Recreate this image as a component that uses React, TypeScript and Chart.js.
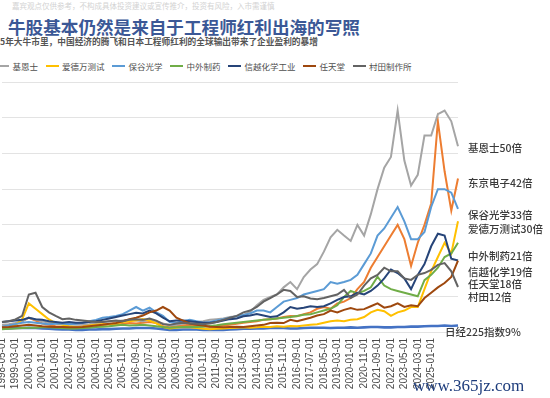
import React, { useEffect, useRef } from "react";
import { Chart, registerables } from "chart.js";
Chart.register(...registerables);

const categories = [
  "1998-05-01","1998-10-01","1999-03-01","1999-08-01","2000-01-01","2000-06-01","2000-11-01","2001-04-01","2001-09-01","2002-02-01",
  "2002-07-01","2002-12-01","2003-05-01","2003-10-01","2004-03-01","2004-08-01","2005-01-01","2005-06-01","2005-11-01","2006-04-01",
  "2006-09-01","2007-02-01","2007-07-01","2007-12-01","2008-05-01","2008-10-01","2009-03-01","2009-08-01","2010-01-01","2010-06-01",
  "2010-11-01","2011-04-01","2011-09-01","2012-02-01","2012-07-01","2012-12-01","2013-05-01","2013-10-01","2014-03-01","2014-08-01",
  "2015-01-01","2015-06-01","2015-11-01","2016-04-01","2016-09-01","2017-02-01","2017-07-01","2017-12-01","2018-05-01","2018-10-01",
  "2019-03-01","2019-08-01","2020-01-01","2020-06-01","2020-11-01","2021-04-01","2021-09-01","2022-02-01","2022-07-01","2022-12-01",
  "2023-05-01","2023-10-01","2024-03-01","2024-08-01","2025-01-01","2025-03-01","2025-05-01","2025-07-01","2025-09-01"
];
// last labelled tick on the axis
const lastTickLabel = "2025-01-01";

const nikkei = [
  1.0, 1.0, 1.1, 1.1, 1.2, 1.1, 1.0, 0.9, 0.8, 0.7,
  0.7, 0.6, 0.6, 0.7, 0.7, 0.8, 0.8, 0.9, 1.0, 1.0,
  1.1, 1.1, 1.1, 1.0, 0.8, 0.6, 0.6, 0.7, 0.7, 0.7,
  0.6, 0.6, 0.6, 0.6, 0.7, 0.8, 0.9, 0.9, 1.0, 1.0,
  1.1, 1.2, 1.1, 1.0, 1.0, 1.1, 1.2, 1.2, 1.2, 1.1,
  1.2, 1.2, 1.3, 1.2, 1.3, 1.4, 1.4, 1.3, 1.3, 1.4,
  1.4, 1.5, 1.5, 1.6, 1.7, 1.7, 1.8, 1.7, 1.8
];
const tokyoElectron = [
  1.5, 1.8, 2.2, 3.0, 4.0, 3.2, 2.4, 2.0, 1.6, 1.5,
  1.5, 1.4, 1.6, 1.8, 2.0, 2.2, 2.1, 2.0, 2.3, 2.5,
  2.4, 2.6, 2.8, 2.5, 1.6, 1.3, 1.6, 1.9, 2.0, 1.8,
  1.6, 1.5, 1.6, 1.8, 2.0, 2.3, 2.6, 2.8, 3.0, 3.4,
  3.6, 3.8, 4.2, 4.5, 4.4, 5.0, 5.5, 6.5, 7.0, 6.5,
  8.0, 8.5, 9.5, 12.0, 14.0, 18.0, 21.0, 24.0, 27.0, 30.0,
  26.0, 18.5, 25.0, 30.0, 36.0, 59.0, 45.0, 34.0, 43.0
];
const keyence = [
  2.0, 2.2, 2.5, 3.0, 4.0, 3.5, 3.0, 2.6, 2.4, 2.3,
  2.2, 2.0, 2.1, 2.2, 2.5, 2.8, 3.0, 3.0, 3.2, 3.4,
  3.2, 3.0, 3.4, 3.0, 2.4, 1.8, 2.0, 2.4, 2.6, 2.8,
  3.0, 3.4, 3.6, 3.8, 4.2, 4.4, 4.8, 5.6, 7.5, 9.0,
  9.8, 10.5, 12.5, 14.0, 12.0, 15.4, 17.5, 19.0, 22.5, 26.5,
  28.6, 27.0, 25.5, 30.0, 27.0, 33.0, 40.0, 46.0, 49.0, 62.0,
  48.0, 41.0, 44.0, 55.0, 55.0, 61.0, 62.0, 59.0, 52.0
];
const advantest = [
  1.2, 1.5, 2.0, 3.5, 8.0, 6.5, 5.0, 3.5, 2.5, 2.0,
  1.6, 1.4, 1.5, 1.8, 2.0, 2.2, 2.2, 2.4, 2.8, 3.0,
  3.2, 3.6, 3.2, 2.4, 1.4, 1.0, 1.2, 1.4, 1.3, 1.1,
  0.9, 0.8, 0.9, 1.0, 1.1, 1.2, 1.3, 1.2, 1.3, 1.5,
  1.4, 1.6, 1.5, 1.7, 1.6, 1.8, 2.0, 2.2, 2.6, 3.0,
  3.2, 3.0, 3.4, 3.6, 4.2, 5.5, 6.2, 5.8, 4.5, 5.5,
  6.0, 7.0, 7.0, 12.0, 17.0, 21.0, 25.0, 22.0, 31.0
];
const hoya = [
  1.5, 1.8, 2.2, 2.6, 2.8, 2.6, 2.4, 2.2, 2.3, 2.4,
  2.2, 2.3, 2.6, 3.0, 3.4, 4.0, 4.2, 4.5, 5.0, 6.0,
  7.0, 6.0, 6.8, 5.5, 4.5, 2.8, 2.6, 3.0, 3.4, 3.0,
  2.6, 2.8, 3.2, 3.6, 4.0, 4.4, 4.8, 5.2, 6.0, 6.0,
  5.5, 7.0, 8.5, 9.0, 9.5, 10.5, 11.0, 11.5, 12.0, 14.0,
  13.5, 14.0, 14.6, 16.0, 19.0, 22.0, 27.0, 29.0, 32.0, 35.0,
  31.0, 26.0, 26.0, 28.0, 35.0, 40.0, 40.0, 39.0, 34.5
];
const chugai = [
  0.8, 0.9, 1.0, 1.1, 1.2, 1.2, 1.3, 1.3, 1.2, 1.1,
  1.0, 1.0, 1.1, 1.2, 1.4, 1.5, 1.6, 1.8, 2.0, 1.8,
  1.9, 2.0, 1.8, 1.6, 1.4, 1.2, 1.3, 1.4, 1.5, 1.4,
  1.5, 1.7, 1.9, 2.2, 2.4, 2.6, 2.8, 3.0, 3.2, 3.4,
  3.6, 3.8, 4.0, 4.2, 4.5, 4.8, 5.0, 5.5, 6.0, 6.5,
  7.5, 9.8, 11.5, 10.8, 11.5, 12.5, 15.5, 13.0, 12.0, 11.5,
  11.0, 10.5, 10.0, 14.5, 16.0, 18.0, 21.0, 22.0, 25.0
];
const shinEtsu = [
  2.8, 3.0, 3.2, 3.4, 4.0, 3.6, 3.4, 3.0, 2.8, 2.6,
  2.8, 2.6, 2.6, 2.8, 3.0, 3.4, 3.8, 4.2, 4.6, 5.0,
  5.4, 5.2, 6.0, 5.2, 4.0, 3.0, 3.2, 3.2, 3.0, 2.8,
  2.6, 2.6, 2.8, 3.2, 3.6, 3.8, 4.4, 4.6, 5.0, 4.6,
  4.2, 4.4, 5.5, 7.0, 6.5, 6.8, 7.2, 7.0, 7.2, 8.0,
  9.0, 9.8, 10.0, 11.0, 10.5, 11.5, 13.0, 15.0, 17.5, 16.5,
  15.0, 12.0, 16.0, 19.0, 24.0, 27.5, 27.0, 20.5, 20.0
];
const nintendo = [
  1.3, 1.4, 1.6, 1.8, 2.0, 1.8, 1.6, 1.5, 1.4, 1.4,
  1.3, 1.3, 1.4, 1.6, 1.8, 2.0, 2.3, 2.5, 3.0, 3.6,
  4.0, 4.6, 5.5, 6.0, 7.0, 6.0, 4.0, 3.2, 2.4, 2.0,
  1.8, 1.5, 1.4, 1.3, 1.4, 1.5, 1.4, 1.6, 1.8, 2.0,
  2.5, 2.6, 2.5, 3.4, 3.0, 3.5, 4.0, 4.6, 5.0, 6.0,
  5.5, 6.2, 6.7, 6.2, 6.4, 7.2, 8.0, 6.8, 7.2, 8.0,
  7.0, 7.5, 7.2, 9.5, 11.0, 12.5, 13.7, 15.4, 20.0
];
const murata = [
  2.8, 3.0, 3.5, 4.5, 10.5, 11.0, 7.0, 5.5, 4.5, 3.6,
  3.8, 3.4, 3.2, 3.0, 2.8, 2.8, 3.0, 3.2, 3.0, 3.4,
  3.6, 3.4, 3.8, 3.2, 2.2, 2.0, 2.4, 2.6, 2.4, 2.3,
  2.2, 2.4, 2.8, 3.4, 4.0, 4.5, 5.5, 6.0, 7.0, 8.5,
  9.5, 10.5, 11.8, 11.5, 9.8, 10.0, 9.4, 9.2, 9.5, 10.0,
  10.5, 11.8, 9.5, 10.5, 13.0, 15.0, 16.0, 18.0, 17.0, 17.0,
  15.0, 14.6, 16.0, 16.5, 17.4, 18.8, 19.3, 17.0, 12.6
];

const seriesNames = ["日经225指数", "东京电子", "基恩士", "爱德万测试", "保谷光学", "中外制药", "信越化学工业", "任天堂", "村田制作所"];
const seriesData = [nikkei, tokyoElectron, keyence, advantest, hoya, chugai, shinEtsu, nintendo, murata];
const seriesColors = ["#4472C4", "#ED7D31", "#A5A5A5", "#FFC000", "#5B9BD5", "#70AD47", "#264478", "#9E480E", "#636363"];
// the visible legend (left part is cropped in the picture)
const legendSeries = ["基恩士", "爱德万测试", "保谷光学", "中外制药", "信越化学工业", "任天堂", "村田制作所"];

const endLabels = ["基恩士50倍", "东京电子42倍", "保谷光学33倍", "爱德万测试30倍", "中外制药21倍", "信越化学19倍", "任天堂18倍", "村田12倍"];
const endLabelValues = [51.5, 41.7, 32.8, 28.9, 21.3, 16.8, 13.4, 9.8];
const nikkeiLabel = "日经225指数9%";
const nikkeiLabelValue = 0;

const yMin = 0;
const yMax = 70;
const yStep = 10;

const disclaimer = "嘉宾观点仅供参考，不构成具体投资建议或宣传推介，投资有风险，入市需谨慎";
const title = "牛股基本仍然是来自于工程师红利出海的写照";
const subtitle = "5年大牛市里，中国经济的腾飞和日本工程师红利的全球输出带来了企业盈利的暴增";
const watermark = "www.365jz.com";

const CJK = '"Noto Sans CJK SC", "Noto Sans", sans-serif';

const endLabelPlugin = {
  id: "endLabels",
  afterDraw(chart: any) {
    const { ctx, chartArea, scales } = chart;
    ctx.save();
    ctx.font = `500 10.5px ${CJK}`;
    ctx.fillStyle = "#3a3a3a";
    ctx.textBaseline = "middle";
    ctx.textAlign = "left";
    endLabels.forEach((t, i) => {
      ctx.fillText(t, chartArea.right + 10, scales.y.getPixelForValue(endLabelValues[i]));
    });
    ctx.fillText(nikkeiLabel, chartArea.right - 13, scales.y.getPixelForValue(nikkeiLabelValue));
    ctx.restore();
  },
};

function ChartCanvas() {
  const ref = useRef<HTMLCanvasElement>(null);
  useEffect(() => {
    if (!ref.current) return;
    const lastIdx = categories.indexOf(lastTickLabel);
    const chart = new Chart(ref.current, {
      type: "line",
      data: {
        labels: categories,
        datasets: seriesNames.map((name, i) => ({
          label: name,
          data: seriesData[i],
          borderColor: seriesColors[i],
          backgroundColor: seriesColors[i],
          borderWidth: i === 0 ? 2.6 : 2,
          pointRadius: 0,
          tension: 0,
          order: seriesNames.length - i,
        })),
      },
      options: {
        animation: false,
        responsive: false,
        layout: { padding: { left: 2, right: 92, top: 10, bottom: 0 } },
        plugins: { legend: { display: false }, tooltip: { enabled: false } },
        scales: {
          x: {
            grid: { display: false, drawTicks: false },
            border: { display: false },
            afterFit: (scale: any) => {
              scale.height = 66;
              scale.paddingLeft = 0;
              scale.paddingRight = 0;
            },
            ticks: {
              autoSkip: false,
              minRotation: 90,
              maxRotation: 90,
              padding: 6,
              color: "#4a4a4a",
              font: { size: 10, family: '"Liberation Sans", sans-serif' },
              callback: (_v: any, idx: number) => (idx % 2 === 0 && idx <= lastIdx ? categories[idx] : null),
            },
          },
          y: {
            min: yMin,
            max: yMax,
            ticks: { display: false, stepSize: yStep },
            grid: { color: "#e3e3e3", drawTicks: false, lineWidth: 1 },
            border: { display: false },
          },
        },
      },
      plugins: [endLabelPlugin],
    });
    return () => chart.destroy();
  }, []);
  return <canvas ref={ref} width={550} height={326} style={{ display: "block", width: 550, height: 326 }} />;
}

export default function App() {
  return (
    <div style={{ position: "absolute", left: 0, top: 0, width: 550, height: 398, overflow: "hidden", background: "#fff" }}>
      <div style={{ position: "absolute", left: 12, top: 1, fontSize: 7.5, lineHeight: "9px", color: "#d2d2d2", fontFamily: CJK, whiteSpace: "nowrap" }}>
        {disclaimer}
      </div>
      <div style={{ position: "absolute", left: 8, top: 17, fontSize: 17.6, lineHeight: "20px", color: "#3b5896", fontWeight: 700, fontFamily: CJK, whiteSpace: "nowrap" }}>
        {title}
      </div>
      <div style={{ position: "absolute", left: 0, top: 37, fontSize: 8.7, lineHeight: "10px", color: "#555", fontWeight: 700, fontFamily: CJK, whiteSpace: "nowrap" }}>
        {subtitle}
      </div>
      <div style={{ position: "absolute", left: -4, top: 60, height: 12, display: "flex", alignItems: "center", whiteSpace: "nowrap" }}>
        {legendSeries.map((name) => {
          const color = seriesColors[seriesNames.indexOf(name)];
          return (
            <div key={name} style={{ display: "flex", alignItems: "center", marginRight: 7.5 }}>
              <span style={{ display: "inline-block", width: 13, height: 2.5, background: color, marginRight: 3.5 }} />
              <span style={{ fontSize: 8.5, lineHeight: "12px", color: "#4f4f4f", fontFamily: CJK }}>{name}</span>
            </div>
          );
        })}
      </div>
      <div style={{ position: "absolute", left: 0, top: 72 }}>
        <ChartCanvas />
      </div>
      <div style={{ position: "absolute", left: 413, top: 376, fontSize: 17, lineHeight: "20px", color: "#1d3c7c", fontFamily: '"Liberation Serif", serif', whiteSpace: "nowrap" }}>
        {watermark}
      </div>
    </div>
  );
}
